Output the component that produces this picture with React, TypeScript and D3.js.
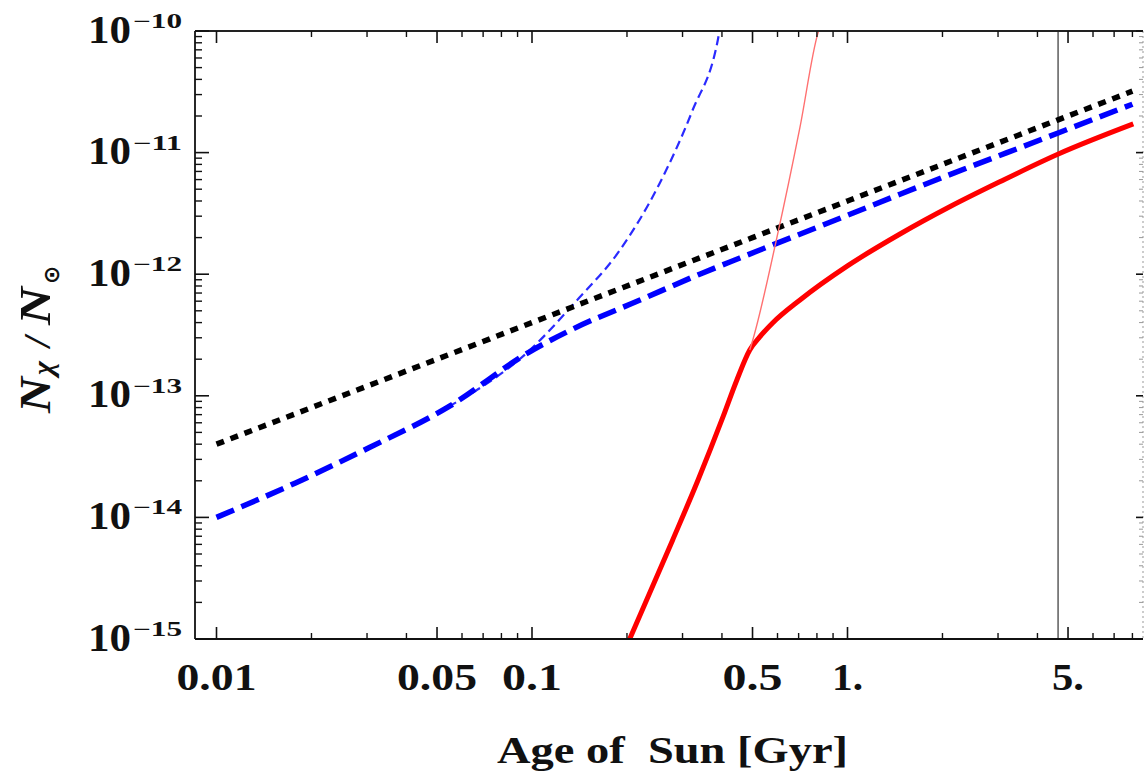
import React from 'react';
import * as d3 from 'd3';

// ---------- data ----------
const xMajorTicks = [0.01, 0.05, 0.1, 0.5, 1, 5];
const xTickLabels = ['0.01', '0.05', '0.1', '0.5', '1.', '5.'];
const yDecades = [-15, -14, -13, -12, -11, -10];
const sunAge = 4.65;

const blackAge = [0.01, 0.1, 1, 4.65, 8];
const blackVal = [4.0e-14, 4.0e-13, 4.0e-12, 1.86e-11, 3.2e-11];

const blueAge = [0.01, 0.0178, 0.0303, 0.0543, 0.098, 0.135, 0.219, 0.34, 0.456, 1.0, 1.467, 4.65, 8];
const blueVal = [1.0e-14, 1.92e-14, 3.72e-14, 8.1e-14, 2.29e-13, 3.55e-13, 6.1e-13, 1.0e-12, 1.36e-12, 3.05e-12, 4.55e-12, 1.45e-11, 2.5e-11];

const blueThinAge = [0.0543, 0.098, 0.138, 0.19, 0.254, 0.323, 0.388, 0.393];
const blueThinVal = [8.1e-14, 2.35e-13, 6.0e-13, 1.58e-12, 5.6e-12, 2.24e-11, 8.4e-11, 1.0e-10];

const redAge = [0.204, 0.279, 0.336, 0.403, 0.446, 0.49, 0.527, 0.579, 0.707, 1.0, 1.467, 2.116, 3.05, 4.66, 8.05];
const redVal = [1e-15, 6.5e-15, 2.03e-14, 6.7e-14, 1.35e-13, 2.38e-13, 3.05e-13, 3.97e-13, 6.14e-13, 1.17e-12, 2.14e-12, 3.6e-12, 5.78e-12, 9.73e-12, 1.72e-11];

const redThinAge = [0.49, 0.501, 0.597, 0.707, 0.806, 0.81];
const redThinVal = [2.38e-13, 2.88e-13, 1.99e-12, 1.62e-11, 9.6e-11, 1.0e-10];

// ---------- layout ----------
const W = 1144, H = 776;
const X0 = 195, X1 = 1143, Y0 = 31, Y1 = 639;
const x = d3.scaleLog().domain([0.01, 1]).range([216.5, 847.5]);
const y = d3.scaleLog().domain([1e-15, 1e-10]).range([Y1, Y0]);
const FONT = "'Liberation Serif', 'Times New Roman', serif";

const xLabelWidth: Record<string, number> = { '0.01': 80, '0.05': 80, '0.1': 60, '0.5': 60, '1.': 31, '5.': 32 };

const zip = (a: number[], b: number[]) => a.map((v, i) => [v, b[i]] as [number, number]);
const line = d3.line<[number, number]>().x(d => x(d[0])).y(d => y(d[1])).curve(d3.curveMonotoneX);

export default function App() {
  const xMax = x.invert(X1);
  const xMinor: number[] = [];
  for (let e = -2; e <= 0; e++) {
    for (let k = 2; k <= 9; k++) {
      const v = k * Math.pow(10, e);
      if (v <= xMax && !xMajorTicks.some(m => Math.abs(m - v) < 1e-9)) xMinor.push(v);
    }
  }
  const yMinor: number[] = [];
  for (const d of yDecades.slice(0, -1)) {
    for (let k = 2; k <= 9; k++) yMinor.push(k * Math.pow(10, d));
  }

  return (
    <svg width={W} height={H} style={{ position: 'absolute', left: 0, top: 0, background: '#fff' }}>
      <defs>
        <clipPath id="plotClip">
          <rect x={X0} y={Y0} width={X1 - X0} height={Y1 - Y0} />
        </clipPath>
      </defs>
      <rect width={W} height={H} fill="#fff" />

      {/* vertical Sun-age line */}
      <line x1={x(sunAge)} x2={x(sunAge)} y1={Y0} y2={Y1} stroke="#666" strokeWidth={1.6} />

      <g clipPath="url(#plotClip)" fill="none">
        <path d={line(zip(blueThinAge, blueThinVal)) || ''} stroke="#2a2aff" strokeWidth={2.2} strokeDasharray="9,5" />
        <path d={line(zip(blueAge, blueVal)) || ''} stroke="#0000ff" strokeWidth={5.5} strokeDasharray="19,8" />
        <path d={line(zip(redAge, redVal)) || ''} stroke="#ff0000" strokeWidth={5} />
        <path d={line(zip(blackAge, blackVal)) || ''} stroke="#000" strokeWidth={5.5} strokeDasharray="8,7" />
        <path d={line(zip(redThinAge, redThinVal)) || ''} stroke="#ff7070" strokeWidth={1.4} />
      </g>

      {/* frame */}
      <line x1={X0} x2={X1} y1={Y1} y2={Y1} stroke="#111" strokeWidth={1.8} />
      <line x1={X0} x2={X1} y1={Y0} y2={Y0} stroke="#222" strokeWidth={1.8} />
      <line x1={X0} x2={X0} y1={Y0} y2={Y1} stroke="#111" strokeWidth={1.8} />
      <line x1={X1} x2={X1} y1={Y0} y2={Y1} stroke="#999" strokeWidth={1} strokeDasharray="2,3" />

      {/* x ticks */}
      {xMajorTicks.map(t => (
        <g key={'xM' + t}>
          <line x1={x(t)} x2={x(t)} y1={Y1} y2={Y1 - 12} stroke="#111" strokeWidth={1.6} />
          <line x1={x(t)} x2={x(t)} y1={Y0} y2={Y0 + 12} stroke="#111" strokeWidth={1.6} />
        </g>
      ))}
      {xMinor.map(t => (
        <g key={'xm' + t}>
          <line x1={x(t)} x2={x(t)} y1={Y1} y2={Y1 - 6} stroke="#111" strokeWidth={1.4} />
          <line x1={x(t)} x2={x(t)} y1={Y0} y2={Y0 + 6} stroke="#111" strokeWidth={1.4} />
        </g>
      ))}
      {/* y ticks */}
      {yDecades.map(d => {
        const v = Math.pow(10, d);
        return (
          <g key={'yM' + d}>
            <line x1={X0} x2={X0 + 14} y1={y(v)} y2={y(v)} stroke="#111" strokeWidth={1.6} />
            <line x1={X1} x2={X1 - 7} y1={y(v)} y2={y(v)} stroke="#111" strokeWidth={1.6} />
          </g>
        );
      })}
      {yMinor.map(v => (
        <g key={'ym' + v}>
          <line x1={X0} x2={X0 + 7} y1={y(v)} y2={y(v)} stroke="#111" strokeWidth={1.4} />
          <line x1={X1} x2={X1 - 4} y1={y(v)} y2={y(v)} stroke="#999" strokeWidth={1} />
        </g>
      ))}

      {/* x tick labels */}
      {xMajorTicks.map((t, i) => (
        <text key={'xl' + t} x={x(t)} y={690} textAnchor="middle" fontFamily={FONT} fontWeight="bold"
          fontSize={37} fill="#111" textLength={xLabelWidth[xTickLabels[i]]} lengthAdjust="spacingAndGlyphs">
          {xTickLabels[i]}
        </text>
      ))}

      {/* y tick labels */}
      {yDecades.map(d => {
        const yy = y(Math.pow(10, d));
        return (
          <g key={'yl' + d} fontFamily={FONT} fontWeight="bold" fill="#111">
            <text x={88} y={yy + 11.5} fontSize={40} textLength={43} lengthAdjust="spacingAndGlyphs">10</text>
            <text x={133} y={yy - 3} fontSize={20} textLength={49} lengthAdjust="spacingAndGlyphs">{'\u2212' + Math.abs(d)}</text>
          </g>
        );
      })}

      {/* x axis title */}
      <text x={497} y={763} fontFamily={FONT} fontWeight="bold" fontSize={38} fill="#111"
        textLength={351} lengthAdjust="spacingAndGlyphs" style={{ whiteSpace: 'pre' }}>
        {'Age of  Sun [Gyr]'}
      </text>

      {/* y axis title */}
      <g transform="translate(50,413) rotate(-90)" fontFamily={FONT} fontWeight="bold" fill="#111">
        <text x={0} y={0} fontSize={44} fontStyle="italic" textLength={36} lengthAdjust="spacingAndGlyphs">N</text>
        <text x={38} y={3} fontSize={30} fontStyle="italic">χ</text>
        <text x={66} y={0} fontSize={38} fontStyle="italic">/</text>
        <text x={88} y={0} fontSize={44} fontStyle="italic" textLength={38} lengthAdjust="spacingAndGlyphs">N</text>
        <text x={129} y={9} fontSize={22} fontFamily="'DejaVu Sans', sans-serif">⊙</text>
      </g>
    </svg>
  );
}
